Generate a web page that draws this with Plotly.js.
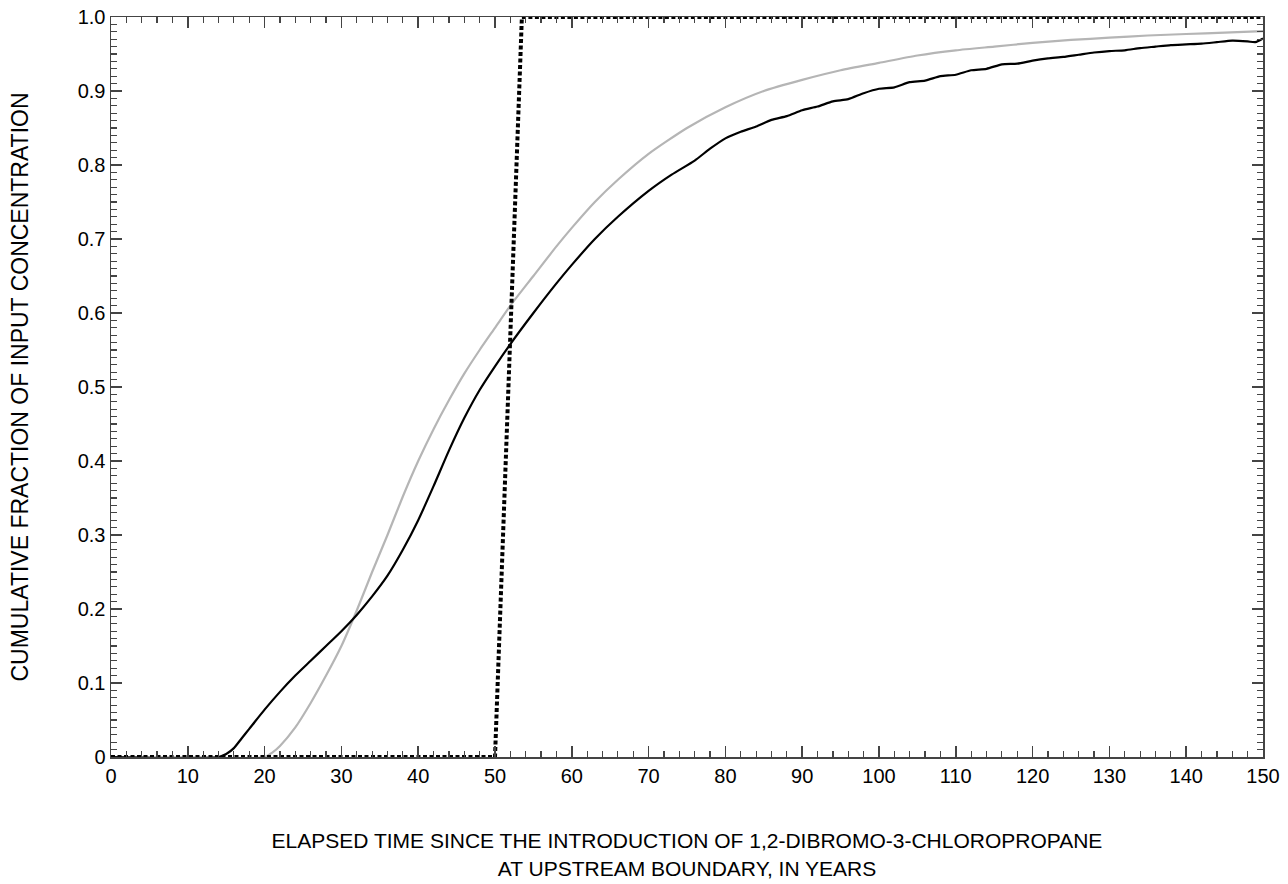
<!DOCTYPE html>
<html>
<head>
<meta charset="utf-8">
<script src="https://cdn.plot.ly/plotly-3.0.1.min.js"></script>
<style>html,body{margin:0;padding:0;background:#fff;}#chart{width:1288px;height:884px;}</style>
</head>
<body>
<div id="chart"></div>
<script>
// Black solid curve (simulated breakthrough)
const blackX = [0, 14, 15, 16, 17, 18, 20, 22, 24, 26, 28, 30, 32, 34, 36, 38, 40, 42, 44, 46, 48, 50, 52, 55, 58, 60, 63, 66, 70, 73, 76, 78, 80, 82, 84, 86, 88, 90, 92, 94, 96, 98, 100, 102, 104, 106, 108, 110, 112, 114, 116, 118, 120, 122, 124, 126, 128, 130, 132, 134, 136, 138, 140, 142, 144, 146, 148, 149, 150];
const blackY = [0, 0, 0.004, 0.012, 0.025, 0.038, 0.064, 0.088, 0.11, 0.13, 0.15, 0.17, 0.192, 0.217, 0.245, 0.28, 0.32, 0.366, 0.414, 0.458, 0.496, 0.528, 0.558, 0.60, 0.64, 0.665, 0.70, 0.73, 0.765, 0.787, 0.806, 0.822, 0.836, 0.845, 0.852, 0.861, 0.866, 0.874, 0.879, 0.886, 0.889, 0.897, 0.903, 0.905, 0.912, 0.914, 0.92, 0.922, 0.928, 0.93, 0.936, 0.937, 0.941, 0.944, 0.946, 0.949, 0.952, 0.954, 0.955, 0.958, 0.96, 0.962, 0.963, 0.964, 0.966, 0.968, 0.967, 0.966, 0.971];
// Gray solid curve
const grayX = [0, 20, 21, 22, 24, 26, 28, 30, 32, 34, 36, 38, 40, 42, 44, 46, 48, 50, 52, 55, 58, 60, 63, 66, 70, 75, 80, 85, 90, 95, 100, 105, 110, 115, 120, 125, 130, 135, 140, 145, 150];
const grayY = [0, 0, 0.006, 0.015, 0.04, 0.073, 0.11, 0.15, 0.198, 0.25, 0.30, 0.352, 0.40, 0.443, 0.482, 0.518, 0.55, 0.58, 0.61, 0.65, 0.69, 0.715, 0.75, 0.78, 0.815, 0.85, 0.878, 0.90, 0.915, 0.928, 0.938, 0.948, 0.955, 0.96, 0.965, 0.969, 0.972, 0.975, 0.977, 0.979, 0.981];
// Dotted piston-flow step
const pistonX = [0, 50, 53.5, 150];
const pistonY = [0, 0, 1, 1];
// Tick labels
const yTickVals = [0, 0.1, 0.2, 0.3, 0.4, 0.5, 0.6, 0.7, 0.8, 0.9, 1.0];
const yTickText = ["0", "0.1", "0.2", "0.3", "0.4", "0.5", "0.6", "0.7", "0.8", "0.9", "1.0"];
const xTickVals = [0, 10, 20, 30, 40, 50, 60, 70, 80, 90, 100, 110, 120, 130, 140, 150];
const xTickText = ["0", "10", "20", "30", "40", "50", "60", "70", "80", "90", "100", "110", "120", "130", "140", "150"];

const FONT = "Liberation Sans, Arial, Helvetica, sans-serif";
const traces = [
  {x: grayX, y: grayY, mode: "lines", line: {color: "#b5b5b5", width: 2.2, shape: "spline", smoothing: 0.6}, hoverinfo: "skip"},
  {x: blackX, y: blackY, mode: "lines", line: {color: "#000000", width: 2.2, shape: "spline", smoothing: 0.6}, hoverinfo: "skip"},
  {x: pistonX, y: pistonY, mode: "lines", line: {color: "#000000", width: 4, dash: "4px,2.5px"}, hoverinfo: "skip"}
];
const axisCommon = {
  showgrid: false, zeroline: false, showline: true, linecolor: "#444", linewidth: 1.5,
  mirror: "ticks", ticks: "inside", tickcolor: "#444", tickwidth: 1.5, ticklen: 11,
  tickfont: {family: FONT, size: 20, color: "#000"}, fixedrange: true
};
const layout = {
  width: 1288, height: 884,
  margin: {l: 111, r: 25, t: 17, b: 127},
  paper_bgcolor: "#fff", plot_bgcolor: "#fff",
  showlegend: false,
  xaxis: Object.assign({}, axisCommon, {
    range: [0, 150], tickmode: "array", tickvals: xTickVals, ticktext: xTickText,
    minor: {dtick: 2, ticks: "inside", ticklen: 6, tickcolor: "#444", tickwidth: 1.2},
    title: {text: "ELAPSED TIME SINCE THE INTRODUCTION OF 1,2-DIBROMO-3-CHLOROPROPANE<br>AT UPSTREAM BOUNDARY, IN YEARS", font: {family: FONT, size: 21, color: "#000"}, standoff: 48}
  }),
  yaxis: Object.assign({}, axisCommon, {
    range: [0, 1], tickmode: "array", tickvals: yTickVals, ticktext: yTickText,
    minor: {dtick: 0.01, ticks: "inside", ticklen: 6, tickcolor: "#444", tickwidth: 1.2},
    title: {text: "CUMULATIVE FRACTION OF INPUT CONCENTRATION", font: {family: FONT, size: 23, color: "#000"}, standoff: 42}
  })
};
Plotly.newPlot("chart", traces, layout, {staticPlot: true, displayModeBar: false});
</script>
</body>
</html>
